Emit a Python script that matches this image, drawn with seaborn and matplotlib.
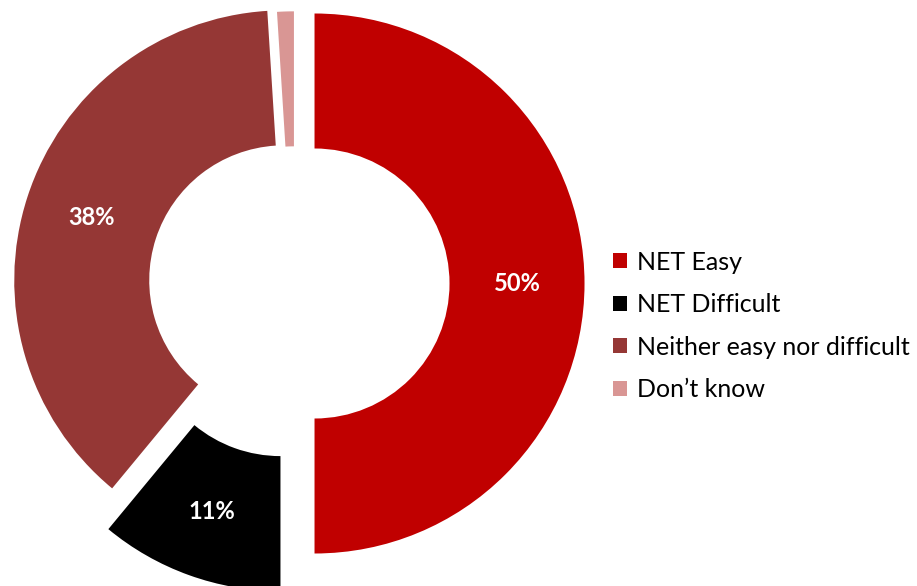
import matplotlib
matplotlib.use("Agg")
import matplotlib.pyplot as plt
from matplotlib.patches import Patch
import seaborn as sns

# Survey responses (share of respondents, %)
categories = ["NET Easy", "NET Difficult", "Neither easy nor difficult", "Don\u2019t know"]
shares = [50, 11, 38, 1]
colors = ["#C00000", "#000000", "#953735", "#D99694"]
explode = [0.076, 0.148, 0.038, 0.008]

sns.set_theme(style="white")
plt.rcParams["font.family"] = ["Lato", "DejaVu Sans"]

fig = plt.figure(figsize=(9.17, 5.86), dpi=100)
ax = fig.add_axes([0, 0, 1, 1])

wedges, texts, autotexts = ax.pie(
    shares,
    colors=colors,
    explode=explode,
    startangle=90,
    counterclock=False,
    radius=1.0,
    wedgeprops=dict(width=0.5, linewidth=0),
    autopct=lambda p: f"{p:.0f}%" if p > 2 else "",
    pctdistance=0.75,
    textprops=dict(color="white", fontsize=17, fontweight="bold"),
)

# One data unit equals the outer radius of the ring
px = 270.0
cx, cy = 294.0, 283.5
ax.set_xlim(-cx / px, (917 - cx) / px)
ax.set_ylim((cy - 586) / px, cy / px)
ax.set_aspect("equal")
ax.axis("off")

handles = [Patch(facecolor=c, edgecolor="none") for c in colors]
fig.legend(
    handles, categories,
    loc="center left",
    bbox_to_anchor=(603 / 917, 1 - 326 / 586),
    frameon=False,
    fontsize=18,
    labelcolor="black",
    handlelength=0.55,
    handleheight=0.55,
    handletextpad=0.4,
    labelspacing=0.78,
    borderaxespad=0,
)

fig.savefig("out.png", dpi=100, facecolor="white")
